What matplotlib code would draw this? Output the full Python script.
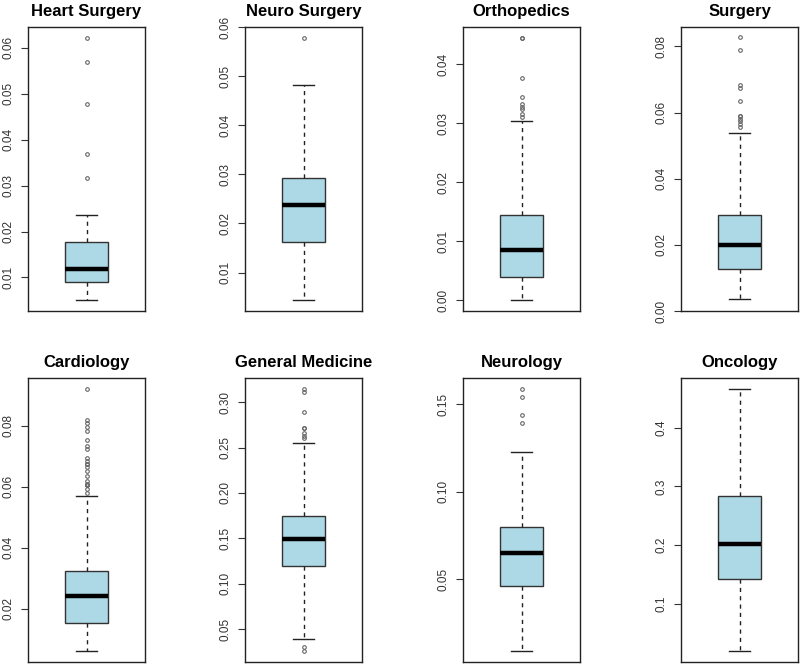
import matplotlib
matplotlib.use("Agg")
import matplotlib.pyplot as plt

plt.rcParams['font.family'] = ['Liberation Sans', 'DejaVu Sans']

titles = ["Heart Surgery", "Neuro Surgery", "Orthopedics", "Surgery",
          "Cardiology", "General Medicine", "Neurology", "Oncology"]

q1 = [0.0090, 0.0163, 0.0040, 0.0126, 0.0153, 0.1191, 0.0464, 0.1431]
medians = [0.01175, 0.0237, 0.0085, 0.0200, 0.0242, 0.1497, 0.0648, 0.2027]
q3 = [0.0178, 0.0292, 0.0145, 0.0291, 0.0323, 0.1744, 0.0797, 0.2838]
whislo = [0.0050, 0.0043, 0.0000, 0.0036, 0.0059, 0.0386, 0.0088, 0.0195]
whishi = [0.0237, 0.0483, 0.0304, 0.0538, 0.0570, 0.2546, 0.1224, 0.4664]

fliers = [
    [0.0622, 0.0569, 0.0477, 0.0368, 0.0316],
    [0.0579],
    [0.0444, 0.0445, 0.0376, 0.0345, 0.0332, 0.0328, 0.0324, 0.0316, 0.0311],
    [0.0827, 0.0788, 0.0682, 0.0674, 0.0635, 0.0590, 0.0591, 0.0581, 0.0573,
     0.0565, 0.0557],
    [0.0923, 0.0821, 0.0811, 0.0795, 0.0785, 0.0754, 0.0733, 0.0723, 0.0695,
     0.0684, 0.0674, 0.0675, 0.0664, 0.0653, 0.0634, 0.0618, 0.0610, 0.0605,
     0.0606, 0.0594, 0.0580],
    [0.315, 0.311, 0.289, 0.271, 0.2712, 0.266, 0.263, 0.260, 0.030, 0.0253],
    [0.1589, 0.1542, 0.1439, 0.1390],
    [],
]

yticks = [
    [0.01, 0.02, 0.03, 0.04, 0.05, 0.06],
    [0.01, 0.02, 0.03, 0.04, 0.05, 0.06],
    [0.00, 0.01, 0.02, 0.03, 0.04],
    [0.00, 0.02, 0.04, 0.06, 0.08],
    [0.02, 0.04, 0.06, 0.08],
    [0.05, 0.10, 0.15, 0.20, 0.25, 0.30],
    [0.05, 0.10, 0.15],
    [0.1, 0.2, 0.3, 0.4],
]
ytick_labels = [
    ["0.01", "0.02", "0.03", "0.04", "0.05", "0.06"],
    ["0.01", "0.02", "0.03", "0.04", "0.05", "0.06"],
    ["0.00", "0.01", "0.02", "0.03", "0.04"],
    ["0.00", "0.02", "0.04", "0.06", "0.08"],
    ["0.02", "0.04", "0.06", "0.08"],
    ["0.05", "0.10", "0.15", "0.20", "0.25", "0.30"],
    ["0.05", "0.10", "0.15"],
    ["0.1", "0.2", "0.3", "0.4"],
]

W, H = 800, 664
fig = plt.figure(figsize=(W / 100, H / 100), dpi=100)

col_x = [28, 245, 463, 681]
row_y = [27, 378]
ax_w, ax_h = 117, 284

for i, title in enumerate(titles):
    r, c = divmod(i, 4)
    left = col_x[c] / W
    bottom = 1 - (row_y[r] + ax_h) / H
    ax = fig.add_axes([left, bottom, ax_w / W, ax_h / H])
    stats = [dict(med=medians[i], q1=q1[i], q3=q3[i], whislo=whislo[i],
                  whishi=whishi[i], fliers=fliers[i])]
    ax.bxp(stats, positions=[1], widths=0.37, patch_artist=True,
           boxprops=dict(facecolor='#ADD8E6', edgecolor='#333333', linewidth=1.0),
           medianprops=dict(color='black', linewidth=3.2, solid_capstyle='butt'),
           whiskerprops=dict(color='#222222', linewidth=1.0, linestyle=(0, (3, 3))),
           capprops=dict(color='#222222', linewidth=1.0),
           capwidths=0.185,
           flierprops=dict(marker='o', markersize=2.6, markerfacecolor='none',
                           markeredgecolor='#666666', markeredgewidth=0.8))
    vals = [whislo[i], whishi[i]] + fliers[i]
    lo, hi = min(vals), max(vals)
    pad = 0.04 * (hi - lo)
    ax.set_ylim(lo - pad, hi + pad)
    ax.set_xlim(0.5, 1.5)
    ax.set_xticks([])
    ax.set_yticks(yticks[i])
    ax.set_yticklabels(ytick_labels[i], rotation=90, va='center', fontsize=8.5,
                       color='#333333')
    ax.tick_params(axis='y', direction='out', length=5, width=0.8, pad=5,
                   color='#333333')
    for s in ax.spines.values():
        s.set_linewidth(1.0)
        s.set_color('#222222')
    ax.set_title(title, fontsize=12, fontweight='bold', pad=8)

fig.savefig("out.png", dpi=100)
